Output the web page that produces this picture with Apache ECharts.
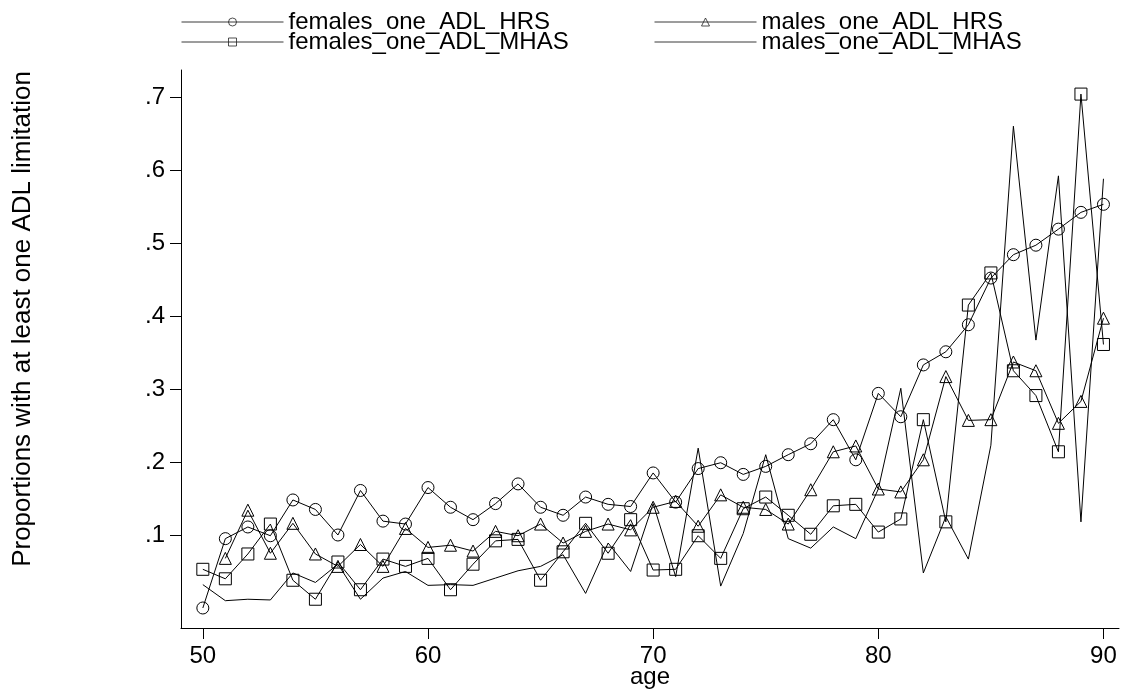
<!DOCTYPE html>
<html>
<head>
<meta charset="utf-8">
<script src="https://cdn.jsdelivr.net/npm/echarts@6/dist/echarts.min.js"></script>
<style>
  html, body { margin: 0; padding: 0; background: #ffffff; }
  #chart { width: 1126px; height: 692px; }
</style>
</head>
<body>
<div id="chart"></div>
<script>
// Age in years
const ages = [50, 51, 52, 53, 54, 55, 56, 57, 58, 59,
              60, 61, 62, 63, 64, 65, 66, 67, 68, 69,
              70, 71, 72, 73, 74, 75, 76, 77, 78, 79,
              80, 81, 82, 83, 84, 85, 86, 87, 88, 89, 90];

// Proportion with at least one ADL limitation, by age
const femalesHRS = [0.000, 0.095, 0.111, 0.099, 0.148, 0.135, 0.100, 0.161, 0.119, 0.115,
                    0.165, 0.138, 0.121, 0.143, 0.170, 0.138, 0.127, 0.152, 0.142, 0.139,
                    0.185, 0.145, 0.191, 0.199, 0.183, 0.194, 0.210, 0.225, 0.258, 0.203,
                    0.294, 0.262, 0.333, 0.351, 0.388, 0.452, 0.484, 0.497, 0.519, 0.542, 0.553];

const malesHRS = [null, 0.068, 0.134, 0.075, 0.116, 0.074, 0.057, 0.087, 0.057, 0.109,
                  0.083, 0.086, 0.078, 0.105, 0.099, 0.115, 0.089, 0.105, 0.115, 0.107,
                  0.138, 0.146, 0.112, 0.155, 0.138, 0.135, 0.115, 0.162, 0.214, 0.222,
                  0.163, 0.159, 0.203, 0.317, 0.257, 0.258, 0.337, 0.325, 0.253, 0.283, 0.397];

const femalesMHAS = [0.053, 0.040, 0.074, 0.115, 0.038, 0.012, 0.063, 0.025, 0.067, 0.057,
                     0.068, 0.025, 0.060, 0.092, 0.094, 0.038, 0.077, 0.116, 0.075, 0.121,
                     0.052, 0.053, 0.099, 0.068, 0.136, 0.152, 0.127, 0.101, 0.140, 0.142,
                     0.104, 0.122, 0.258, 0.118, 0.415, 0.459, 0.325, 0.291, 0.214, 0.704, 0.361];

const malesMHAS = [0.032, 0.010, 0.012, 0.011, 0.048, 0.035, 0.060, 0.012, 0.041, 0.050,
                   0.031, 0.032, 0.031, 0.041, 0.051, 0.057, 0.073, 0.020, 0.089, 0.050,
                   0.143, 0.043, 0.219, 0.030, 0.102, 0.210, 0.095, 0.082, 0.111, 0.095,
                   0.163, 0.301, 0.048, 0.125, 0.067, 0.223, 0.660, 0.367, 0.592, 0.118, 0.588];

const seriesNames = ['females_one_ADL_HRS', 'males_one_ADL_HRS',
                     'females_one_ADL_MHAS', 'males_one_ADL_MHAS'];

const xTicks = [50, 60, 70, 80, 90];
const yTicks = [0.1, 0.2, 0.3, 0.4, 0.5, 0.6, 0.7];
const yTickLabels = ['.1', '.2', '.3', '.4', '.5', '.6', '.7'];

const FONT = "'Liberation Sans', Arial, Helvetica, sans-serif";
const INK = '#000000';
const TEXT_SIZE = 24;

function pairs(values) {
  return ages.map((a, i) => [a, values[i]]);
}

function lineSeries(name, values, symbol) {
  return {
    name: name,
    type: 'line',
    data: pairs(values),
    symbol: symbol,
    symbolSize: 12,
    showSymbol: symbol !== 'none',
    connectNulls: false,
    animation: false,
    lineStyle: { color: INK, width: 1 },
    itemStyle: { color: 'transparent', borderColor: INK, borderWidth: 1 },
    emphasis: { disabled: true }
  };
}

// One legend block per key so the keys line up in two columns
function legendEntry(name, left, top, hideSymbol) {
  const entry = {
    data: [name],
    left: left,
    top: top,
    padding: 0,
    itemWidth: 102,
    itemHeight: 10,
    selectedMode: false,
    textStyle: { fontFamily: FONT, fontSize: TEXT_SIZE, color: INK },
    lineStyle: { color: '#3a3a3a', width: 1 },
    itemStyle: { color: 'transparent', borderColor: '#222222', borderWidth: 0.8 }
  };
  if (hideSymbol) {
    entry.itemStyle = { color: 'transparent', borderColor: 'transparent', borderWidth: 0 };
  }
  return entry;
}

const chart = echarts.init(document.getElementById('chart'), null, { renderer: 'canvas' });

chart.setOption({
  backgroundColor: '#ffffff',
  animation: false,
  textStyle: { fontFamily: FONT, color: INK },
  legend: [
    legendEntry(seriesNames[0], 181, 10, false),
    legendEntry(seriesNames[1], 654, 10, false),
    legendEntry(seriesNames[2], 181, 30, false),
    legendEntry(seriesNames[3], 654, 30, true)
  ],
  grid: {
    left: 181, right: 7, top: 70, bottom: 64,
    containLabel: false,
    outerBoundsMode: 'none'
  },
  xAxis: {
    type: 'value',
    min: 49.03,
    max: 90.69,
    name: 'age',
    nameLocation: 'middle',
    nameGap: 37,
    nameMoveOverlap: false,
    nameTextStyle: { fontFamily: FONT, fontSize: TEXT_SIZE, color: INK },
    axisLine: { show: true, onZero: false, lineStyle: { color: INK, width: 1 } },
    axisTick: { show: true, length: 11, customValues: xTicks, lineStyle: { color: INK, width: 1 } },
    axisLabel: { customValues: xTicks, margin: 16, fontFamily: FONT, fontSize: TEXT_SIZE, color: INK },
    splitLine: { show: false }
  },
  yAxis: {
    type: 'value',
    min: -0.0274,
    max: 0.737,
    name: 'Proportions with at least one ADL limitation',
    nameLocation: 'middle',
    nameRotate: 90,
    nameGap: 145,
    nameMoveOverlap: false,
    nameTextStyle: {
      fontFamily: FONT,
      fontSize: 26,
      color: INK,
      padding: [0, 0, 0, 60]
    },
    axisLine: { show: true, onZero: false, lineStyle: { color: INK, width: 1 } },
    axisTick: { show: true, length: 11, customValues: yTicks, lineStyle: { color: INK, width: 1 } },
    axisLabel: {
      customValues: yTicks,
      margin: 16,
      fontFamily: FONT,
      fontSize: TEXT_SIZE,
      color: INK,
      formatter: function (v) {
        const i = yTicks.findIndex(t => Math.abs(t - v) < 1e-9);
        return i >= 0 ? yTickLabels[i] : '';
      }
    },
    splitLine: { show: false }
  },
  series: [
    lineSeries(seriesNames[0], femalesHRS, 'circle'),
    lineSeries(seriesNames[1], malesHRS, 'triangle'),
    lineSeries(seriesNames[2], femalesMHAS, 'rect'),
    lineSeries(seriesNames[3], malesMHAS, 'none')
  ]
});
</script>
</body>
</html>
